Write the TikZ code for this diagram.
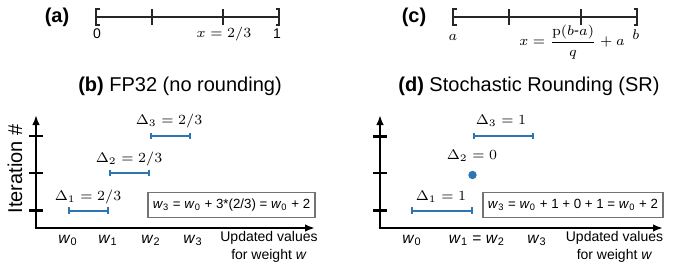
\documentclass[tikz,border=0pt]{standalone}
\usepackage[no-math]{fontspec}
\setmainfont{Liberation Sans}
\usetikzlibrary{arrows.meta}
\definecolor{sblue}{HTML}{2E75B6}
\newcommand\wv[1]{\textit{w}\textsubscript{#1}}
\begin{document}
\begin{tikzpicture}[x=0.5pt,y=-0.5pt,
  every node/.style={inner sep=0pt,outer sep=0pt},
  titletext/.style={font=\fontsize{10}{12}\selectfont},
  lbl/.style={font=\fontsize{7}{8.4}\selectfont},
  mlbl/.style={font=\fontsize{7.4}{9}\selectfont},
  wlbl/.style={font=\fontsize{7.8}{9}\selectfont},
  numline/.style={line width=0.75pt,black!85},
  axis/.style={line width=1.25pt,-{Latex[length=5pt,width=3.8pt]}},
  ytick/.style={line width=1.25pt},
  seg/.style={sblue,line width=1pt,{Bar[width=3.2pt]}-{Bar[width=3.2pt]}},
  eqbox/.style={draw=black!55,line width=0.7pt,font=\fontsize{6.65}{8}\selectfont,minimum height=12.25pt,inner sep=0pt}
]
\useasboundingbox (0,0) rectangle (675,264);

% ---------- titles ----------
\node[titletext] (ta) at (57,17) {\textbf{(a)}};
\node[titletext] (tb) at (180,86) {\textbf{(b)} FP32 (no rounding)};
\node[titletext] (tc) at (414,17) {\textbf{(c)}};
\node[titletext] (td) at (529,86) {\textbf{(d)} Stochastic Rounding (SR)};

% ---------- (a) number line ----------
\coordinate (a0) at (96,17);
\coordinate (a3) at (279,17);
\draw[numline] (a0) -- (a3);
\draw[numline] (99.5,9) -- (96,9) -- (96,25) -- (99.5,25);
\draw[numline] (275.5,9) -- (279,9) -- (279,25) -- (275.5,25);
\draw[numline] (152,9) -- (152,25);
\draw[numline] (223,9) -- (223,25);
\node[lbl] (l0) at (97,34) {0};
\node[mlbl] (lx) at (224,34) {$x=2/3$};
\node[lbl] (l1) at (277,34) {1};

% ---------- (c) number line ----------
\coordinate (c0) at (453,17);
\coordinate (c3) at (637,17);
\draw[numline] (c0) -- (c3);
\draw[numline] (456.5,9) -- (453,9) -- (453,25) -- (456.5,25);
\draw[numline] (633.5,9) -- (637,9) -- (637,25) -- (633.5,25);
\draw[numline] (509,9) -- (509,25);
\draw[numline] (581,9) -- (581,25);
\node[mlbl] (la) at (453,37) {$a$};
\node[mlbl] (lb) at (636,35) {$b$};
\node[mlbl] (lf) at (572,42) {$x=\displaystyle\frac{\mathrm{p}(b\mbox{-}a)}{q}+a$};

% ---------- (b) plot ----------
\coordinate (bO) at (36,228);
\coordinate (bY) at (36,115);
\coordinate (bX) at (315,228);
\draw[axis] (bO) -- (bY);
\draw[axis] ([xshift=-0.6pt]bO) -- (bX);
\foreach \yy in {136,173,210.5} \draw[ytick] (29,\yy) -- (43,\yy);
\node[titletext,rotate=90] (bit) at (15,169) {Iteration \#};

\coordinate (b1s) at (68,210.5);   \coordinate (b1e) at (108.5,210.5);
\coordinate (b2s) at (108.5,173);  \coordinate (b2e) at (149.5,173);
\coordinate (b3s) at (149.5,136);  \coordinate (b3e) at (190.5,136);
\draw[seg] (b1s) -- (b1e);
\draw[seg] (b2s) -- (b2e);
\draw[seg] (b3s) -- (b3e);
\node[mlbl] (bd1) at (88,197) {$\Delta_1=2/3$};
\node[mlbl] (bd2) at (129,159) {$\Delta_2=2/3$};
\node[mlbl] (bd3) at (169,121) {$\Delta_3=2/3$};

\node[wlbl] (bw0) at (68,240) {\wv{0}};
\node[wlbl] (bw1) at (108,240) {\wv{1}};
\node[wlbl] (bw2) at (151,240) {\wv{2}};
\node[wlbl] (bw3) at (193,240) {\wv{3}};
\node[lbl,align=center] (bup) at (269,247) {Updated values\\[0.6pt]for weight \textit{w}};
\node[eqbox,minimum width=83.5pt] (bbox) at (231.5,205) {\wv{3} = \wv{0} + 3*(2/3) = \wv{0} + 2};

% ---------- (d) plot ----------
\coordinate (dO) at (380,228);
\coordinate (dY) at (380,115);
\coordinate (dX) at (663,228);
\draw[axis] (dO) -- (dY);
\draw[axis] ([xshift=-0.6pt]dO) -- (dX);
\foreach \yy in {136.5,173,210.5} \draw[ytick] (373,\yy) -- (387,\yy);

\coordinate (d1s) at (410.7,210.5); \coordinate (d1e) at (472.7,210.5);
\coordinate (d3s) at (472.7,136);   \coordinate (d3e) at (534,136);
\draw[seg] (d1s) -- (d1e);
\draw[seg] (d3s) -- (d3e);
\fill[sblue] (472.5,175) circle (2.1pt);
\node[mlbl] (dd1) at (441,197) {$\Delta_1=1$};
\node[mlbl] (dd2) at (472,156) {$\Delta_2=0$};
\node[mlbl] (dd3) at (501,121) {$\Delta_3=1$};

\node[wlbl] (dw0) at (412,240) {\wv{0}};
\node[wlbl] (dw12) at (477,240) {\wv{1} = \wv{2}};
\node[wlbl] (dw3) at (537,240) {\wv{3}};
\node[lbl,align=center] (dup) at (614.5,247) {Updated values\\[0.6pt]for weight \textit{w}};
\node[eqbox,minimum width=90pt] (dbox) at (573,205) {\wv{3} = \wv{0} + 1 + 0 + 1 = \wv{0} + 2};
\end{tikzpicture}
\end{document}
